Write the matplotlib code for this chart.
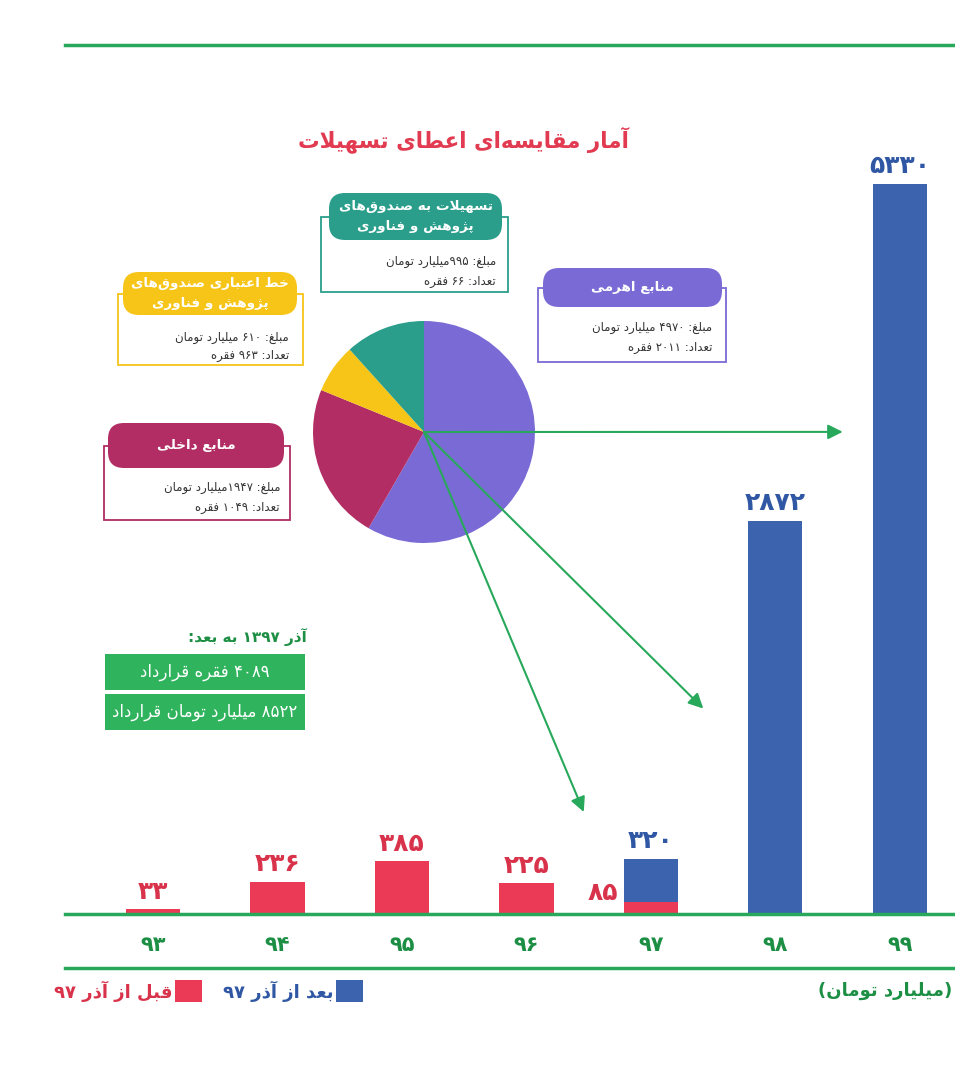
import matplotlib
matplotlib.use('Agg')
import matplotlib.pyplot as plt
from matplotlib.patches import FancyBboxPatch, Rectangle, ConnectionPatch

plt.rcParams['font.family'] = ['DejaVu Sans']

# ---- data ----
years = [93, 94, 95, 96, 97, 98, 99]
before_azar97 = [33, 236, 385, 225, 85, 0, 0]
after_azar97 = [0, 0, 0, 0, 320, 2872, 5330]

pie_names = ['منابع اهرمی', 'منابع داخلی', 'خط اعتباری صندوق\u200cهای پژوهش و فناوری',
             'تسهیلات به صندوق\u200cهای پژوهش و فناوری']
pie_amounts = [4970, 1947, 610, 995]      # میلیارد تومان
pie_counts = [2011, 1049, 963, 66]        # فقره

title = 'آمار مقایسه\u200cای اعطای تسهیلات'
legend_labels = ['قبل از آذر ۹۷', 'بعد از آذر ۹۷']
unit_label = '(میلیارد تومان)'

RED = '#ea3a55'
BLUE = '#3c63ad'
GREEN = '#27a85a'
DKGREEN = '#1d8f45'
pie_colors = ['#7a6ad6', '#b12d64', '#f6c518', '#2a9e8b']


# ---- minimal persian shaping + right-to-left ordering ----
FORMS = {
    'ا': (0xFE8D, 0xFE8E), 'آ': (0xFE81, 0xFE82),
    'ب': (0xFE8F, 0xFE90, 0xFE91, 0xFE92), 'پ': (0xFB56, 0xFB57, 0xFB58, 0xFB59),
    'ت': (0xFE95, 0xFE96, 0xFE97, 0xFE98), 'خ': (0xFEA5, 0xFEA6, 0xFEA7, 0xFEA8),
    'د': (0xFEA9, 0xFEAA), 'ذ': (0xFEAB, 0xFEAC), 'ر': (0xFEAD, 0xFEAE),
    'ز': (0xFEAF, 0xFEB0), 'ژ': (0xFB8A, 0xFB8B),
    'س': (0xFEB1, 0xFEB2, 0xFEB3, 0xFEB4), 'ش': (0xFEB5, 0xFEB6, 0xFEB7, 0xFEB8),
    'ص': (0xFEB9, 0xFEBA, 0xFEBB, 0xFEBC), 'ط': (0xFEC1, 0xFEC2, 0xFEC3, 0xFEC4),
    'ع': (0xFEC9, 0xFECA, 0xFECB, 0xFECC), 'غ': (0xFECD, 0xFECE, 0xFECF, 0xFED0),
    'ف': (0xFED1, 0xFED2, 0xFED3, 0xFED4), 'ق': (0xFED5, 0xFED6, 0xFED7, 0xFED8),
    '\u06a9': (0xFB8E, 0xFB8F, 0xFB90, 0xFB91), 'ل': (0xFEDD, 0xFEDE, 0xFEDF, 0xFEE0),
    'م': (0xFEE1, 0xFEE2, 0xFEE3, 0xFEE4), 'ن': (0xFEE5, 0xFEE6, 0xFEE7, 0xFEE8),
    'و': (0xFEED, 0xFEEE), 'ه': (0xFEE9, 0xFEEA, 0xFEEB, 0xFEEC),
    '\u06cc': (0xFBFC, 0xFBFD, 0xFBFE, 0xFBFF),
}


def fa(n):
    return ''.join(chr(0x06F0 + int(d)) for d in str(n))


def rtl(s):
    s = s.replace('\u064a', '\u06cc').replace('\u0643', '\u06a9')
    out = []
    i = 0
    while i < len(s):
        c = s[i]
        if c not in FORMS:
            if c != '\u200c':
                out.append(c)
            i += 1
            continue
        prev = s[i - 1] if i > 0 else ''
        jp = prev in FORMS and len(FORMS[prev]) == 4
        if c == 'ل' and i + 1 < len(s) and s[i + 1] in 'اآ':
            lig = (0xFEFB, 0xFEFC) if s[i + 1] == 'ا' else (0xFEF5, 0xFEF6)
            out.append(chr(lig[1] if jp else lig[0]))
            i += 2
            continue
        nxt = s[i + 1] if i + 1 < len(s) else ''
        jn = len(FORMS[c]) == 4 and nxt in FORMS
        f = FORMS[c]
        if jp and jn:
            g = f[3]
        elif jp:
            g = f[1]
        elif jn:
            g = f[2]
        else:
            g = f[0]
        out.append(chr(g))
        i += 1
    runs = []
    for ch in out:
        d = ch.isdigit()
        if runs and runs[-1][0] == d:
            runs[-1][1].append(ch)
        else:
            runs.append([d, [ch]])
    mirror = {'(': ')', ')': '('}
    vis = ''
    for d, chars in reversed(runs):
        if d:
            vis += ''.join(chars)
        else:
            vis += ''.join(mirror.get(c, c) for c in reversed(chars))
    return vis


W, H = 955, 1080
fig = plt.figure(figsize=(W / 100, H / 100), dpi=100)

# ---- bar chart ----
ax = fig.add_axes([65 / W, (H - 914) / H, 890 / W, 794.4 / H])
x = list(range(len(years)))
ax.bar(x, before_azar97, width=0.434, color=RED)
ax.bar(x, after_azar97, width=0.434, bottom=before_azar97, color=BLUE)
ax.set_xlim(-0.707, 6.442)
ax.set_ylim(0, 5800)
ax.set_xticks(x, [fa(y) for y in years])
ax.tick_params(axis='x', length=0, pad=15, labelsize=15, labelcolor=DKGREEN)
for lab in ax.get_xticklabels():
    lab.set_fontweight('bold')
ax.set_yticks([])
for side in ['top', 'left', 'right']:
    ax.spines[side].set_visible(False)
ax.spines['bottom'].set_color(GREEN)
ax.spines['bottom'].set_linewidth(2.5)
ax.patch.set_alpha(0)

for i in x:
    b, a = before_azar97[i], after_azar97[i]
    if b and not a:
        ax.annotate(fa(b), (i, b), xytext=(0, 4), textcoords='offset points',
                    ha='center', va='bottom', fontsize=18, fontweight='bold', color='#d8334b')
    elif b and a:
        ax.annotate(fa(b), (i - 0.217, b), xytext=(-4, -2), textcoords='offset points',
                    ha='right', va='bottom', fontsize=18, fontweight='bold', color='#d8334b')
    if a:
        ax.annotate(fa(a), (i, a + b), xytext=(0, 4), textcoords='offset points',
                    ha='center', va='bottom', fontsize=18, fontweight='bold', color='#2f57a3')

# ---- pie ----
pax = fig.add_axes([313 / W, (H - 543) / H, 222 / W, 222 / H])
pax.pie(pie_amounts, colors=pie_colors, startangle=90, counterclock=False,
        wedgeprops=dict(linewidth=0))
pax.set_xlim(-1, 1)
pax.set_ylim(-1, 1)

# arrows from the pie centre to the bars
for xb, yb in [(5.54, 3520), (4.42, 1500), (3.46, 745)]:
    con = ConnectionPatch(xyA=(0, 0), coordsA=pax.transData, xyB=(xb, yb), coordsB=ax.transData,
                          arrowstyle='-|>', mutation_scale=22, color=GREEN, lw=1.5)
    fig.add_artist(con)

# ---- overlay: frame lines, title, boxes, legend ----
ov = fig.add_axes([0, 0, 1, 1])
ov.set_xlim(0, W)
ov.set_ylim(H, 0)
ov.axis('off')
ov.set_zorder(-1)

ov.plot([65, 955], [45, 45], color=GREEN, lw=2.5)
ov.plot([65, 955], [968, 968], color=GREEN, lw=2.5)
ov.text(463, 140, rtl(title), ha='center', va='center', fontsize=15.5, fontweight='bold', color='#e23a50')

# box geometry: header (x0, x1, y0, y1), body (x0, x1, bottom), text right edge, body line ys
boxes = [
    (0, (543, 722, 268, 307), (538, 726, 362), 712, (328, 348), ['منابع اهرمی']),
    (1, (108, 284, 423, 468), (104, 290, 520), 280, (487, 507), ['منابع داخلی']),
    (2, (123, 297, 272, 315), (118, 303, 365), 289, (337, 356), ['خط اعتباری صندوق\u200cهای', 'پژوهش و فناوری']),
    (3, (329, 502, 193, 240), (321, 508, 292), 496, (261, 281), ['تسهیلات به صندوق\u200cهای', 'پژوهش و فناوری']),
]
nospace = {1, 3}
for k, (hx0, hx1, hy0, hy1), (bx0, bx1, bby), tx, (ly1, ly2), head in boxes:
    col = pie_colors[k]
    ov.add_patch(Rectangle((bx0, (hy0 + hy1) / 2), bx1 - bx0, bby - (hy0 + hy1) / 2,
                           facecolor='white', edgecolor=col, lw=1.3, zorder=1))
    ov.add_patch(FancyBboxPatch((hx0, hy0), hx1 - hx0, hy1 - hy0,
                                boxstyle='round,pad=0,rounding_size=16',
                                facecolor=col, edgecolor='none', zorder=2))
    n = len(head)
    for j, line in enumerate(head):
        yy = (hy0 + hy1) / 2 + (j - (n - 1) / 2) * 20
        ov.text((hx0 + hx1) / 2, yy, rtl(line), ha='center', va='center', fontsize=9.7,
                fontweight='bold', color='white', zorder=3)
    sep = '' if k in nospace else ' '
    ov.text(tx, ly1, rtl('مبلغ: ' + fa(pie_amounts[k]) + sep + 'میلیارد تومان'),
            ha='right', va='center', fontsize=8.5, color='#333333', zorder=3)
    ov.text(tx, ly2, rtl('تعداد: ' + fa(pie_counts[k]) + ' فقره'),
            ha='right', va='center', fontsize=8.5, color='#333333', zorder=3)

# summary since Azar 1397
ov.text(307, 637, rtl('آذر ' + fa(1397) + ' به بعد:'), ha='right', va='center',
        fontsize=11, fontweight='bold', color=DKGREEN)
summary = [fa(sum(pie_counts)) + ' فقره قرارداد', fa(sum(pie_amounts)) + ' میلیارد تومان قرارداد']
for j, (y0, y1) in enumerate([(654, 690), (694, 730)]):
    ov.add_patch(Rectangle((105, y0), 200, y1 - y0, facecolor='#2fb35c', edgecolor='none'))
    ov.text(205, (y0 + y1) / 2, rtl(summary[j]), ha='center', va='center', fontsize=12, color='white')

# legend
for (sx0, tcol, fcol), lab in zip([(175, '#d8334b', RED), (336, '#2f57a3', BLUE)], legend_labels):
    ov.add_patch(Rectangle((sx0, 980), 27, 22, facecolor=fcol, edgecolor='none'))
    ov.text(sx0 - 3, 991, rtl(lab), ha='right', va='center', fontsize=13, fontweight='bold', color=tcol)
ov.text(952, 991, rtl(unit_label), ha='right', va='center', fontsize=13, fontweight='bold', color=DKGREEN)

fig.savefig('out.png', dpi=100)
